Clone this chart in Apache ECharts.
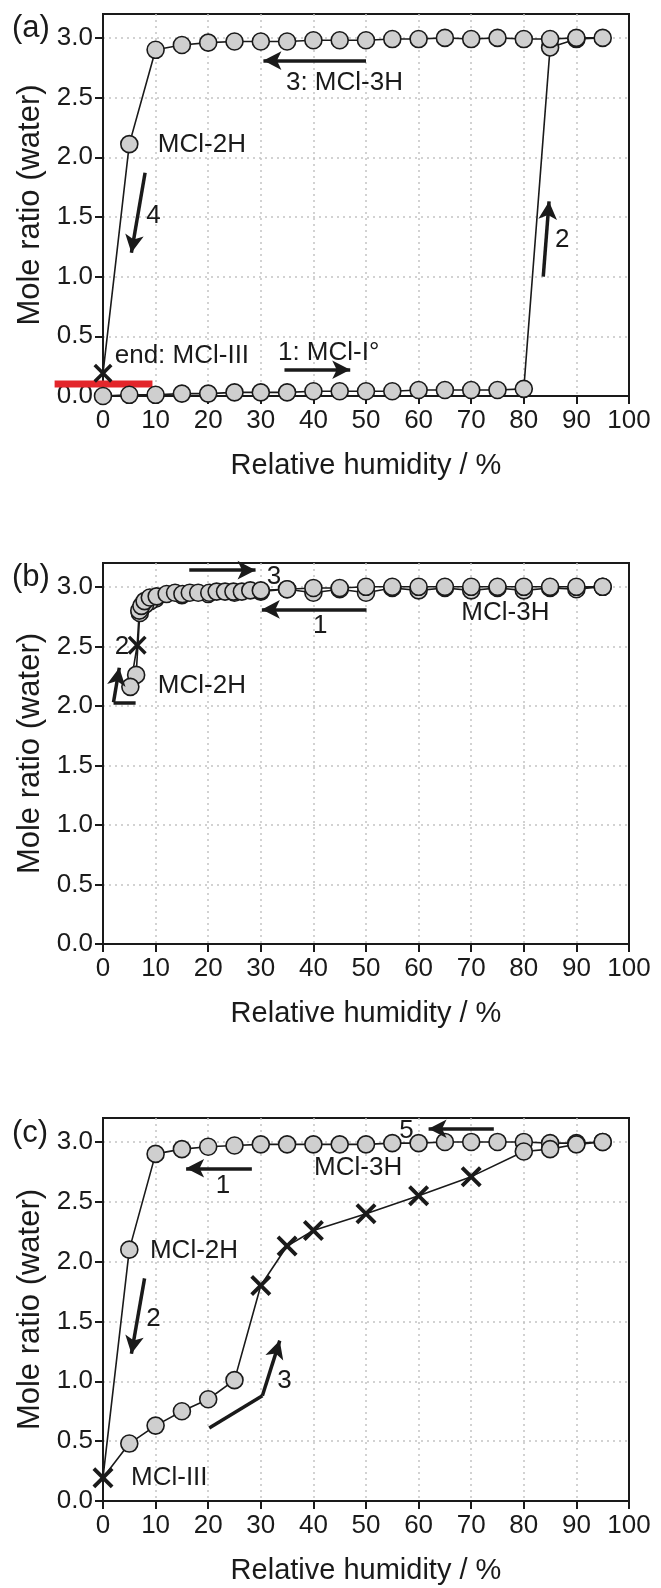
<!DOCTYPE html>
<html><head><meta charset="utf-8">
<script src="https://cdn.jsdelivr.net/npm/echarts@6.0.0/dist/echarts.min.js"></script>
<style>html,body{margin:0;padding:0;background:#fff}#c{width:661px;height:1588px}</style>
</head><body><div id="c"></div>
<script>
// ---------- Panel (a) data ----------
const rhA_up = [0,5,10,15,20,25,30,35,40,45,50,55,60,65,70,75,80,85,90,95];
const mrA_up = [0.0,0.01,0.01,0.02,0.02,0.03,0.03,0.03,0.04,0.04,0.04,0.04,0.05,0.05,0.05,0.05,0.06,2.92,2.99,3.0];
const rhA_down = [90,85,80,75,70,65,60,55,50,45,40,35,30,25,20,15,10,5];
const mrA_down = [3.0,2.99,2.99,3.0,2.99,3.0,2.99,2.99,2.98,2.98,2.98,2.97,2.97,2.97,2.96,2.94,2.90,2.11];
const rhA_x = [0];
const mrA_x = [0.19];
const redBarX = [-9.2, 9.4];
const redBarY = [0.1, 0.1];

// ---------- Panel (b) data ----------
const rhB_down = [95,90,85,80,75,70,65,60,55,50,45,40,35,30,25,20,15,10,9,8,7,6.3,5.2];
const mrB_down = [3.0,2.98,2.99,2.97,2.99,2.97,2.99,2.97,2.99,2.95,2.98,2.95,2.98,2.96,2.95,2.94,2.93,2.90,2.88,2.85,2.78,2.26,2.16];
const rhB_x = [6.5];
const mrB_x = [2.51];
const rhB_up = [6.9,7.3,7.9,8.9,10.2,12.1,13.7,15.1,16.5,18.1,20.2,21.6,23.2,24.8,26.4,28,30,35,40,45,50,55,60,65,70,75,80,85,90,95];
const mrB_up = [2.80,2.84,2.88,2.91,2.92,2.94,2.95,2.94,2.95,2.95,2.95,2.96,2.96,2.96,2.96,2.97,2.97,2.98,2.99,2.99,3.0,3.0,3.0,3.0,3.0,3.0,3.0,3.0,3.0,3.0];

// ---------- Panel (c) data ----------
const rhC_down = [95,90,85,80,75,70,65,60,55,50,45,40,35,30,25,20,15,10,5];
const mrC_down = [3.0,2.99,2.99,3.0,3.0,3.0,3.0,2.99,2.99,2.98,2.98,2.98,2.98,2.98,2.97,2.96,2.94,2.90,2.10];
const rhC_x0 = [0];
const mrC_x0 = [0.195];
const rhC_upLow = [5,10,15,20,25];
const mrC_upLow = [0.48,0.63,0.75,0.85,1.01];
const rhC_upX = [30,35,40,50,60,70];
const mrC_upX = [1.80,2.13,2.26,2.40,2.55,2.71];
const rhC_upHigh = [80,85,90,95];
const mrC_upHigh = [2.92,2.94,2.98,3.0];

// ---------- Axis ticks / labels ----------
const xTicks = [0,10,20,30,40,50,60,70,80,90,100];
const yTicks = [0,0.5,1.0,1.5,2.0,2.5,3.0];
const panelLabels = ['(a)','(b)','(c)'];
const xTitle = 'Relative humidity / %';
const yTitle = 'Mole ratio (water)';

// ---------- Annotations (text, data coords) ----------
const textA = [[18.8,2.10,'MCl-2H'],[45.9,2.62,'3: MCl-3H'],[9.6,1.51,'4'],[87.3,1.31,'2'],[15.0,0.34,'end: MCl-III'],[42.9,0.36,'1: MCl-I°']];
const textB = [[18.8,2.17,'MCl-2H'],[76.5,2.78,'MCl-3H'],[41.3,2.67,'1'],[32.5,3.08,'3'],[3.6,2.50,'2']];
const textC = [[48.5,2.78,'MCl-3H'],[22.8,2.63,'1'],[57.7,3.09,'5'],[17.3,2.09,'MCl-2H'],[9.6,1.52,'2'],[34.5,1.0,'3'],[12.6,0.195,'MCl-III']];
const arrowsA = [[[50,2.81],[30.5,2.81]],[[8.0,1.87],[5.4,1.20]],[[83.7,1.0],[84.8,1.63]],[[34.5,0.22],[47.0,0.22]]];
const arrowsB = [[[50.1,2.81],[30.2,2.81]],[[16.4,3.14],[29.0,3.14]],[[6.2,2.03],[2.0,2.03],[3.1,2.32]]];
const arrowsC = [[[28.3,2.78],[15.8,2.78]],[[74.3,3.11],[61.9,3.11]],[[7.9,1.86],[5.4,1.23]],[[20.2,0.61],[30.3,0.88],[33.6,1.34]]];

// ---------- helpers ----------
const FONT = 'Liberation Sans, Arial, sans-serif';
const INK = '#1a1a1a';
const XPATH = 'path://M1.3,0L5,3.7L8.7,0L10,1.3L6.3,5L10,8.7L8.7,10L5,6.3L1.3,10L0,8.7L3.7,5L0,1.3Z';
const zip = (xs, ys) => xs.map((x, i) => [x, ys[i]]);

const grids = [
  {left:103, top:14, width:526, height:382},
  {left:103, top:563, width:526, height:381},
  {left:103, top:1118, width:526, height:383}
];

function pathSeries(gi, pts) {
  return {
    type:'line', xAxisIndex:gi, yAxisIndex:gi, clip:false, z:4,
    data: pts,
    symbol:'circle', symbolSize:17,
    itemStyle:{color:'#cfcfcf', borderColor:INK, borderWidth:1.6, opacity:1},
    lineStyle:{color:INK, width:1.6},
    emphasis:{disabled:true}, animation:false
  };
}
function xSeries(gi, pts, size) {
  return {
    type:'scatter', xAxisIndex:gi, yAxisIndex:gi, clip:false, z:6,
    data: pts, symbol:XPATH, symbolSize:size,
    itemStyle:{color:INK, opacity:1}, emphasis:{disabled:true}, animation:false
  };
}
function annotSeries(gi, texts, arrows) {
  const ml = [];
  arrows.forEach(a => {
    for (let i = 0; i < a.length - 1; i++) {
      const last = i === a.length - 2;
      ml.push([{coord:a[i], symbol:'none'}, {coord:a[i+1], symbol: last ? 'arrow' : 'none'}]);
    }
  });
  return {
    type:'scatter', xAxisIndex:gi, yAxisIndex:gi, clip:false, z:7,
    symbolSize:1, itemStyle:{color:'rgba(0,0,0,0)', opacity:1},
    data: texts.map(t => ({value:[t[0], t[1]], name:t[2]})),
    label:{show:true, position:'inside', formatter:'{b}', fontSize:26, color:'#1a1a1a',
      textBorderWidth:0, fontFamily:FONT},
    markLine:{
      silent:true, symbol:['none','arrow'], symbolSize:[14,18],
      label:{show:false}, lineStyle:{color:INK, width:3.5, type:'solid', opacity:1},
      data: ml, animation:false
    },
    emphasis:{disabled:true}, animation:false
  };
}

// paths (line order)
const pathA = [...zip(rhA_up, mrA_up), ...zip(rhA_down, mrA_down), {value:[rhA_x[0], mrA_x[0]], symbol:'none'}];
const pathB = [...zip(rhB_down, mrB_down), {value:[rhB_x[0], mrB_x[0]], symbol:'none'}, ...zip(rhB_up, mrB_up)];
const pathC = [...zip(rhC_down, mrC_down), {value:[rhC_x0[0], mrC_x0[0]], symbol:'none'}, ...zip(rhC_upLow, mrC_upLow),
  ...zip(rhC_upX, mrC_upX).map(p => ({value:p, symbol:'none'})), ...zip(rhC_upHigh, mrC_upHigh)];

const splitStyle = {show:true, showMinLine:false, showMaxLine:false, lineStyle:{color:'#c4c4c4', width:1.5, type:[2,4]}};
const xAxes = grids.map((g, i) => ({
  type:'value', gridIndex:i, min:xTicks[0], max:xTicks[xTicks.length-1], interval:10,
  name:xTitle, nameLocation:'middle', nameGap:55,
  nameTextStyle:{fontSize:29, color:'#1a1a1a', fontFamily:FONT},
  axisLine:{show:true, onZero:false, lineStyle:{color:INK, width:2}},
  axisTick:{show:true, length:8, lineStyle:{color:INK, width:2}},
  axisLabel:{fontSize:26, color:'#1a1a1a', margin:12, fontFamily:FONT},
  splitLine:splitStyle
}));
const yAxes = grids.map((g, i) => ({
  type:'value', gridIndex:i, min:yTicks[0], max:3.2, interval:0.5,
  name:yTitle, nameLocation:'middle', nameGap:55, nameRotate:90,
  nameTextStyle:{fontSize:31, color:'#1a1a1a', fontFamily:FONT},
  axisLine:{show:true, onZero:false, lineStyle:{color:INK, width:2}},
  axisTick:{show:true, length:8, lineStyle:{color:INK, width:2}},
  axisLabel:{fontSize:26, color:'#1a1a1a', margin:10, fontFamily:FONT, showMaxLabel:false,
    formatter: v => (yTicks.some(t => Math.abs(t - v) < 1e-6) ? v.toFixed(1) : '')},
  splitLine:splitStyle
}));

const chart = echarts.init(document.getElementById('c'), null, {renderer:'canvas'});
chart.setOption({
  animation:false,
  backgroundColor:'#fff',
  title: panelLabels.map((t, i) => ({
    text:t, left:12, top:[13, 562, 1118][i], padding:0,
    textStyle:{fontSize:31, fontWeight:'normal', color:'#1a1a1a', fontFamily:FONT}
  })),
  grid: grids.map(g => Object.assign({show:true, borderColor:INK, borderWidth:2, backgroundColor:'rgba(0,0,0,0)'}, g)),
  xAxis: xAxes,
  yAxis: yAxes,
  series: [
    {type:'custom', xAxisIndex:0, yAxisIndex:0, clip:false, z:3,
     data: [[redBarX[0], redBarY[0], redBarX[1], redBarY[1]]],
     renderItem: (params, api) => {
       const p0 = api.coord([api.value(0), api.value(1)]);
       const p1 = api.coord([api.value(2), api.value(3)]);
       return {type:'line', shape:{x1:p0[0], y1:p0[1], x2:p1[0], y2:p1[1]},
               style:{stroke:'#e3262b', lineWidth:7}};
     },
     emphasis:{disabled:true}, animation:false},
    pathSeries(0, pathA),
    xSeries(0, zip(rhA_x, mrA_x), 19),
    annotSeries(0, textA, arrowsA),
    pathSeries(1, pathB),
    xSeries(1, zip(rhB_x, mrB_x), 19),
    annotSeries(1, textB, arrowsB),
    pathSeries(2, pathC),
    xSeries(2, [...zip(rhC_x0, mrC_x0), ...zip(rhC_upX, mrC_upX)], 21),
    annotSeries(2, textC, arrowsC)
  ]
});
</script></body></html>
